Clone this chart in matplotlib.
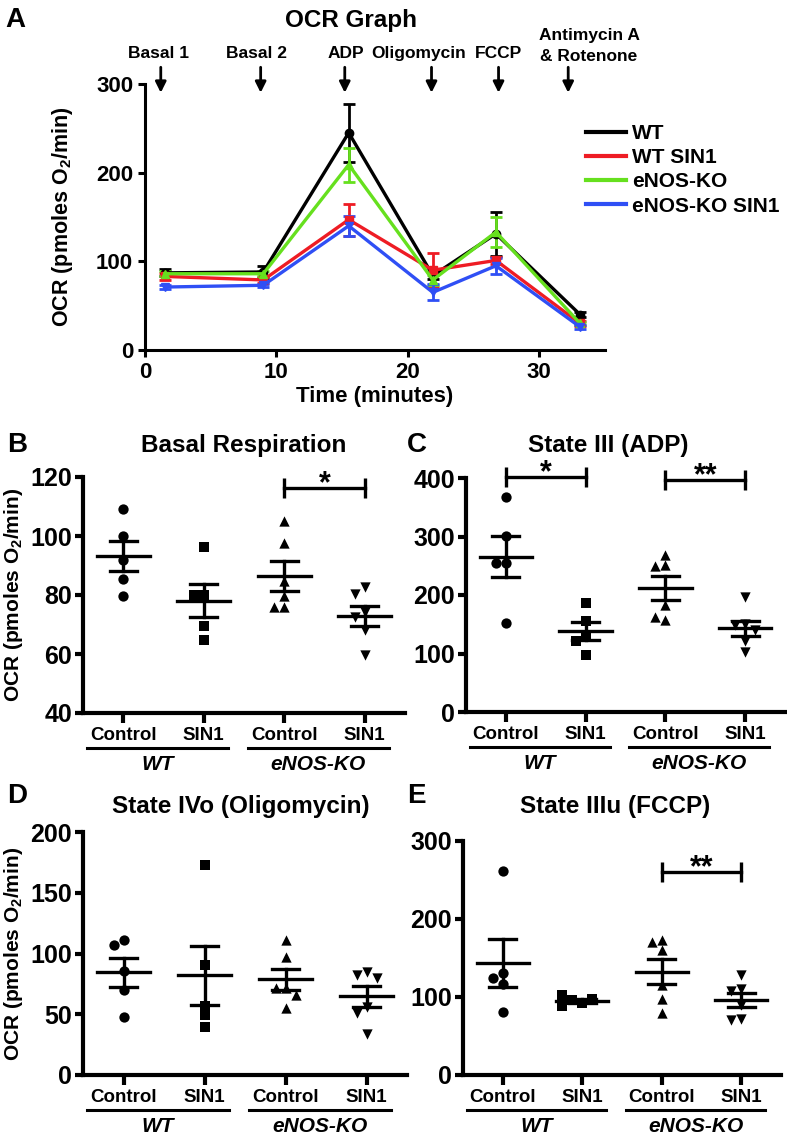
import numpy as np
import matplotlib
matplotlib.use("Agg")
import matplotlib.pyplot as plt
from matplotlib.lines import Line2D

plt.rcParams['font.family'] = ['Liberation Sans', 'DejaVu Sans']
plt.rcParams['font.weight'] = 'bold'
plt.rcParams['mathtext.fontset'] = 'custom'
plt.rcParams['mathtext.rm'] = 'Liberation Sans:bold'
plt.rcParams['mathtext.bf'] = 'Liberation Sans:bold'

# ---- panel A: OCR time course ----
t_min = [1.5, 9.0, 15.5, 21.9, 26.7, 33.1]
ocr_wt = [87, 88, 245, 84, 131, 40]
ocr_wt_sem = [4, 7, 33, 4, 25, 3]
ocr_wt_sin1 = [83, 79, 147, 90, 101, 30]
ocr_wt_sin1_sem = [4, 3, 18, 19, 4, 3]
ocr_ko = [86, 86, 209, 79, 133, 30]
ocr_ko_sem = [3, 3, 19, 6, 17, 2]
ocr_ko_sin1 = [71, 73, 140, 65, 95, 26]
ocr_ko_sin1_sem = [2, 2, 11, 9, 9, 2]
series_names = ['WT', 'WT SIN1', 'eNOS-KO', 'eNOS-KO SIN1']

inject_labels = ['Basal 1', 'Basal 2', 'ADP', 'Oligomycin', 'FCCP', 'Antimycin A\n& Rotenone']
inject_times = [1.2, 8.8, 15.2, 21.8, 26.9, 32.2]

# ---- panels B-E: individual animals ----
groups = ['Control', 'SIN1', 'Control', 'SIN1']
genotypes = ['WT', 'eNOS-KO']

basal_wt_ctrl = [109, 100, 92, 85.4, 79.8]
basal_wt_sin1 = [96.4, 80, 80, 69.5, 64.7]
basal_ko_ctrl = [105.2, 97.5, 84.8, 79.7, 75.8, 75.8]
basal_ko_sin1 = [82.6, 80.5, 74.3, 72.5, 68.1, 59.7]

adp_wt_ctrl = [368, 301, 254, 254, 152]
adp_wt_sin1 = [186, 155, 130, 122, 97]
adp_ko_ctrl = [268, 252, 250, 183, 158, 162]
adp_ko_sin1 = [197, 150, 148, 140, 122, 103]

oligo_wt_ctrl = [111, 107, 86, 70, 48]
oligo_wt_sin1 = [173, 90.6, 56.9, 49.4, 39.8]
oligo_ko_ctrl = [111, 97, 72, 72, 66, 55]
oligo_ko_sin1 = [85, 82, 80, 56, 51, 34]

fccp_wt_ctrl = [261, 131, 125, 117, 81]
fccp_wt_sin1 = [92, 96, 97, 103, 88]
fccp_ko_ctrl = [173, 170, 160, 115, 97, 80]
fccp_ko_sin1 = [128, 110, 108, 90, 72, 70]

W, H = 787, 1146
fig = plt.figure(figsize=(W / 100, H / 100), dpi=100)


def px_rect(left, right, top, bottom):
    return [left / W, 1 - bottom / H, (right - left) / W, (bottom - top) / H]


def ftext(x, y, s, **kw):
    fig.text(x / W, 1 - y / H, s, **kw)


ylab = r'OCR (pmoles O$_{2}$/min)'

# ================= panel A =================
axA = fig.add_axes(px_rect(145, 605, 84, 350))
colors = ['black', '#ee1c24', '#66e01e', '#2f4ff5']
markers = ['o', 's', '^', 'v']
data = [(ocr_wt, ocr_wt_sem), (ocr_wt_sin1, ocr_wt_sin1_sem),
        (ocr_ko, ocr_ko_sem), (ocr_ko_sin1, ocr_ko_sin1_sem)]
for (y, e), c, m in zip(data, colors, markers):
    axA.errorbar(t_min, y, yerr=e, color=c, lw=2.4, marker=m, ms=6,
                 capsize=4, capthick=2, elinewidth=2)
axA.set_xlim(0, 35)
axA.set_ylim(0, 300)
axA.set_xticks([0, 10, 20, 30])
axA.set_yticks([0, 100, 200, 300])
for s in ['top', 'right']:
    axA.spines[s].set_visible(False)
for s in ['left', 'bottom']:
    axA.spines[s].set_linewidth(2.2)
axA.tick_params(width=2.2, length=5, labelsize=16)
axA.set_xlabel('Time (minutes)', fontsize=16, fontweight='bold', labelpad=2)
axA.set_ylabel(ylab, fontsize=15.5, fontweight='bold')
axA.yaxis.set_label_coords(-0.152, 0.5)

for t in inject_times:
    axA.annotate('', xy=(t, 287), xytext=(t, 322), annotation_clip=False,
                 arrowprops=dict(arrowstyle='-|>', lw=2, color='black', mutation_scale=16))
label_px = [159, 257, 346, 419, 499, 589]
for lbl, xp in zip(inject_labels, label_px):
    if '\n' in lbl:
        a, b = lbl.split('\n')
        ftext(xp, 40, a, ha='center', va='baseline', fontsize=12.5)
        ftext(xp, 61, b, ha='center', va='baseline', fontsize=12.5)
    else:
        ftext(xp, 58, lbl, ha='center', va='baseline', fontsize=12.5)

handles = [Line2D([], [], color=c, lw=3) for c in colors]
fig.legend(handles, series_names, loc='upper left', bbox_to_anchor=(586 / W, 1 - 124 / H),
           frameon=False, fontsize=15, handlelength=1.9, handletextpad=0.3,
           labelspacing=0.25, borderaxespad=0, borderpad=0)

ftext(5, 27, 'A', fontsize=20, va='baseline')
ftext(351, 27, 'OCR Graph', fontsize=17.5, ha='center', va='baseline')


# ================= scatter panels =================
def swarm(vals, ppu, step=10.0, size=9.0):
    placed = []
    for v in vals:
        for k in [0, -1, 1, -2, 2, -3, 3]:
            dx = k * step
            if all((dx - px) ** 2 + ((v - pv) * ppu) ** 2 >= size ** 2 for px, pv in placed):
                break
        placed.append((dx, v))
    return [p[0] for p in placed]


def dot_panel(left, right, top, bottom, sets, ylim, yticks, sig, ylabel=True):
    ax = fig.add_axes(px_rect(left, right, top, bottom))
    ax.set_xlim(-0.5, 3.5)
    ax.set_ylim(*ylim)
    ppu = (bottom - top) / (ylim[1] - ylim[0])
    spacing = (right - left) / 4.0
    for i, vals in enumerate(sets):
        offs = np.array(swarm(vals, ppu)) / spacing
        ax.scatter(i + offs, vals, marker=markers[i], s=55, color='black',
                   zorder=3, linewidths=0, clip_on=False)
        m = np.mean(vals)
        sem = np.std(vals, ddof=1) / np.sqrt(len(vals))
        ax.plot([i - 0.33, i + 0.33], [m, m], color='black', lw=2.4, zorder=4)
        ax.plot([i - 0.17, i + 0.17], [m + sem, m + sem], color='black', lw=2.4, zorder=4)
        ax.plot([i - 0.17, i + 0.17], [m - sem, m - sem], color='black', lw=2.4, zorder=4)
        ax.plot([i, i], [m - sem, m + sem], color='black', lw=2.4, zorder=4)
    for a, b, yv, stars in sig:
        ax.plot([a, b], [yv, yv], color='black', lw=2.4, clip_on=False)
        ax.plot([a, b], [yv, yv], ls='none', marker='|', ms=14, mew=2.4,
                color='black', clip_on=False)
        ax.annotate(stars, xy=((a + b) / 2, yv), xytext=(0, -3), textcoords='offset points',
                    ha='center', va='baseline', fontsize=22, annotation_clip=False)
    ax.set_xticks(range(4))
    ax.set_xticklabels(groups, fontsize=13.5, fontweight='bold')
    ax.set_yticks(yticks)
    ax.tick_params(axis='y', labelsize=18, width=3, length=6, pad=2)
    ax.tick_params(axis='x', width=3, length=7, pad=3)
    for s in ['top', 'right']:
        ax.spines[s].set_visible(False)
    for s in ['left', 'bottom']:
        ax.spines[s].set_linewidth(3)
    hpx = bottom - top
    for (x0, x1), g in zip([(-0.45, 1.3), (1.55, 3.3)], genotypes):
        ax.plot([x0, x1], [-35 / hpx] * 2, transform=ax.get_xaxis_transform(),
                color='black', lw=2.2, clip_on=False)
        ax.text((x0 + x1) / 2, -57 / hpx, g, transform=ax.get_xaxis_transform(),
                ha='center', va='baseline', fontsize=15, style='italic', fontweight='bold')
    if ylabel:
        ax.set_ylabel(ylab, fontsize=15, fontweight='bold')
        ax.yaxis.set_label_coords(-(left - 25) / (right - left), 0.5)
    return ax


dot_panel(83, 405, 477, 713, [basal_wt_ctrl, basal_wt_sin1, basal_ko_ctrl, basal_ko_sin1],
          (40, 120), [40, 60, 80, 100, 120], [(2, 3, 116.3, '*')])
dot_panel(466, 785, 478, 712, [adp_wt_ctrl, adp_wt_sin1, adp_ko_ctrl, adp_ko_sin1],
          (0, 400), [0, 100, 200, 300, 400],
          [(0, 1, 401.7, '*'), (2, 3, 396.6, '**')], ylabel=False)
dot_panel(83, 407, 832, 1075, [oligo_wt_ctrl, oligo_wt_sin1, oligo_ko_ctrl, oligo_ko_sin1],
          (0, 200), [0, 50, 100, 150, 200], [])
dot_panel(463, 781, 841, 1075, [fccp_wt_ctrl, fccp_wt_sin1, fccp_ko_ctrl, fccp_ko_sin1],
          (0, 300), [0, 100, 200, 300], [(2, 3, 260.7, '**')], ylabel=False)

ftext(7, 452, 'B', fontsize=20, va='baseline')
ftext(244, 452, 'Basal Respiration', fontsize=17.5, ha='center', va='baseline')
ftext(407, 452, 'C', fontsize=20, va='baseline')
ftext(608, 452, 'State III (ADP)', fontsize=17.5, ha='center', va='baseline')
ftext(7, 803, 'D', fontsize=20, va='baseline')
ftext(241, 813, 'State IVo (Oligomycin)', fontsize=17.5, ha='center', va='baseline')
ftext(407, 803, 'E', fontsize=20, va='baseline')
ftext(615, 813, 'State IIIu (FCCP)', fontsize=17.5, ha='center', va='baseline')

fig.savefig('out.png', dpi=100)
